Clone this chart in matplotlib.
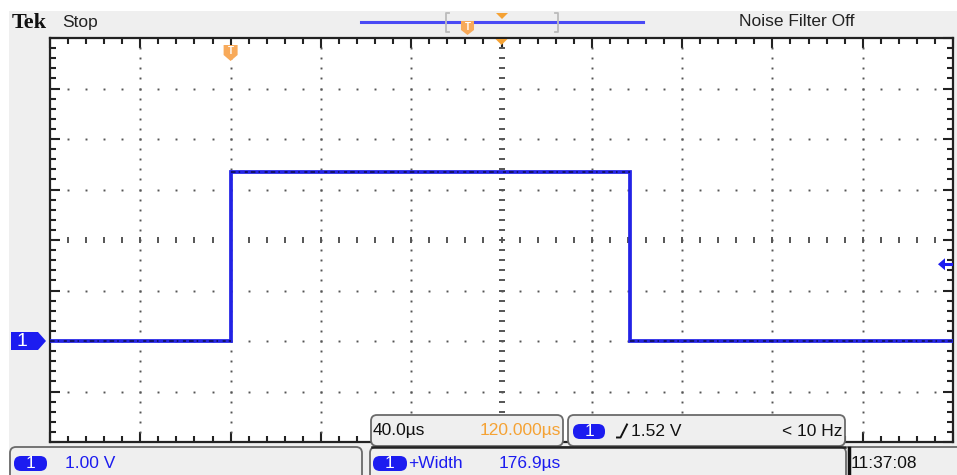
import matplotlib
matplotlib.use('Agg')
import matplotlib.pyplot as plt
import numpy as np
from matplotlib.patches import Rectangle, FancyBboxPatch, Polygon
from matplotlib.ticker import MultipleLocator

# channel 1 trace: single positive pulse
time_us = [-80.0, 0.0, 0.0, 176.9, 176.9, 320.0]
volts = [0.0, 0.0, 3.35, 3.35, 0.0, 0.0]

# scope settings shown on screen
volts_per_div = 1.00
us_per_div = 40.0
h_position_us = 120.0
trigger_level = 1.52
trigger_freq = '< 10 Hz'
pos_width_us = 176.9
clock = '11:37:08'
centre_volts = 2.0          # ground marker is 2 divisions below centre

BLUE = '#1c1cf0'
TRACE = '#2323e6'
ORANGE = '#f5a234'
PANEL = '#efefef'
GRID = '#555555'

plt.rcParams['font.family'] = ['Liberation Sans', 'DejaVu Sans']

W, H = 957, 475
fig = plt.figure(figsize=(W / 100, H / 100), dpi=100)
fig.patch.set_facecolor('white')

# background panel
bg = fig.add_axes([0, 0, 1, 1], zorder=0)
bg.set_xlim(0, W); bg.set_ylim(H, 0); bg.axis('off')
bg.add_patch(Rectangle((9, 11), W - 9, H - 11, fc=PANEL, ec='none'))

# graticule
gl, gr, gt, gb = 50, 953, 38, 442
ax = fig.add_axes([gl / W, (H - gb) / H, (gr - gl) / W, (gb - gt) / H], zorder=1)
ax.set_facecolor('white')
x0 = h_position_us - 5 * us_per_div
x1 = h_position_us + 5 * us_per_div
y0 = centre_volts - 4 * volts_per_div
y1 = centre_volts + 4 * volts_per_div
ax.set_xlim(x0, x1)
ax.set_ylim(y0, y1)
for s in ax.spines.values():
    s.set_linewidth(1.6)
    s.set_color('#222222')
ax.xaxis.set_major_locator(MultipleLocator(us_per_div))
ax.xaxis.set_minor_locator(MultipleLocator(us_per_div / 5))
ax.yaxis.set_major_locator(MultipleLocator(volts_per_div))
ax.yaxis.set_minor_locator(MultipleLocator(volts_per_div / 5))
ax.tick_params(which='both', direction='in', top=True, right=True,
               labelbottom=False, labelleft=False, color='#222222', width=1.5)
ax.tick_params(which='major', length=7)
ax.tick_params(which='minor', length=4)

# dotted division lines
xs_major = x0 + us_per_div * np.arange(1, 10)
ys_major = y0 + volts_per_div * np.arange(1, 8)
xs_fine = x0 + us_per_div / 5 * np.arange(1, 50)
ys_fine = y0 + volts_per_div / 5 * np.arange(1, 40)
for xv in xs_major:
    if np.isclose(xv, h_position_us):
        ax.plot(np.full_like(ys_fine, xv), ys_fine, ls='none', marker='_',
                ms=5, mew=1.4, color=GRID, zorder=2)
    else:
        ax.plot(np.full_like(ys_fine, xv), ys_fine, ls='none', marker='s',
                ms=1.4, mew=0, color=GRID, zorder=2)
for yv in ys_major:
    if np.isclose(yv, centre_volts):
        ax.plot(xs_fine, np.full_like(xs_fine, yv), ls='none', marker='|',
                ms=5, mew=1.4, color=GRID, zorder=2)
    else:
        ax.plot(xs_fine, np.full_like(xs_fine, yv), ls='none', marker='s',
                ms=1.4, mew=0, color=GRID, zorder=2)

# the trace, with the darker sample speckle on the flat parts
ax.plot(time_us, volts, color=TRACE, lw=2.7, zorder=3, solid_joinstyle='miter')
for i in range(0, len(time_us), 2):
    ax.plot(time_us[i:i + 2], volts[i:i + 2], color='#0a0a2a', lw=1.1, zorder=4,
            dashes=(3, 2, 1, 3, 2, 2), alpha=0.85)

# overlay for on-screen readouts
ui = fig.add_axes([0, 0, 1, 1], zorder=2)
ui.set_xlim(0, W); ui.set_ylim(H, 0); ui.axis('off')
ui.patch.set_alpha(0)


def to_px(t, v):
    disp = ax.transData.transform((t, v))
    return ui.transData.inverted().transform(disp)


def pill(x, y, w, h, label='1'):
    ui.add_patch(FancyBboxPatch((x, y), w, h, boxstyle='round,pad=0,rounding_size=7',
                                fc=BLUE, ec='none', zorder=6))
    ui.text(x + w / 2, y + h / 2 + 0.5, label, color='white', fontsize=12.5,
            ha='center', va='center', zorder=7)


# header
ui.text(12, 23, 'Tek', fontsize=16, fontweight='bold', family='Liberation Serif',
        va='center', ha='left', color='#111111')
ui.text(62, 23, 'Stop', fontsize=12.5, va='center', ha='left', color='#222222')
ui.text(797, 22, 'Noise Filter Off', fontsize=12.5, va='center', ha='center', color='#222222')

# record view bar
ui.plot([361, 643], [22, 22], color='#4a4af5', lw=2.2, zorder=5)
for bx, sgn in ((446, 1), (558, -1)):
    ui.plot([bx + 3 * sgn, bx, bx, bx + 3 * sgn], [13, 13, 32, 32],
            color='#bbbbbb', lw=1.3, zorder=5)
ui.add_patch(Polygon([[496, 13], [508, 13], [502, 19]], fc=ORANGE, ec='none', zorder=6))
ui.add_patch(Polygon([[461, 21], [474, 21], [474, 30], [467.5, 35], [461, 30]],
                     fc='#f8aa5a', ec='none', zorder=6))
ui.text(467.5, 26.5, 'T', color='white', fontsize=7, fontweight='bold',
        ha='center', va='center', zorder=7)

# trigger position and horizontal position markers
tx, _ = to_px(0.0, 0.0)
ui.add_patch(Polygon([[tx - 7, 45], [tx + 7, 45], [tx + 7, 55], [tx, 61], [tx - 7, 55]],
                     fc='#f8aa5a', ec='none', zorder=6))
ui.text(tx, 51, 'T', color='white', fontsize=7, fontweight='bold',
        ha='center', va='center', zorder=7)
hx, _ = to_px(h_position_us, 0.0)
ui.add_patch(Polygon([[hx - 6, 39], [hx + 6, 39], [hx, 45]], fc=ORANGE, ec='none', zorder=6))

# channel 1 ground marker
_, gy = to_px(0.0, 0.0)
ui.add_patch(Polygon([[11, gy - 9], [38, gy - 9], [46, gy], [38, gy + 9], [11, gy + 9]],
                     fc=BLUE, ec='none', zorder=6))
ui.text(22, gy + 0.5, '1', color='white', fontsize=14, ha='center', va='center', zorder=7)

# trigger level arrow
_, ty = to_px(0.0, trigger_level)
ui.add_patch(Polygon([[938, ty], [945, ty - 6], [945, ty + 6]], fc=BLUE, ec='none', zorder=6))
ui.plot([944, 951], [ty, ty], color=BLUE, lw=2.2, zorder=6)

# readout boxes
box_kw = dict(fc=PANEL, ec='#6a6a6a', lw=1.3, zorder=4)
ui.add_patch(FancyBboxPatch((10, 447), 352, 40, boxstyle='round,pad=0,rounding_size=6', **box_kw))
ui.add_patch(FancyBboxPatch((370, 447), 476, 40, boxstyle='round,pad=0,rounding_size=6', **box_kw))
ui.add_patch(FancyBboxPatch((371, 415), 192, 31, boxstyle='round,pad=0,rounding_size=6', **box_kw))
ui.add_patch(FancyBboxPatch((568, 415), 277, 31, boxstyle='round,pad=0,rounding_size=6', **box_kw))
ui.plot([372, 845], [446.5, 446.5], color='#222222', lw=1.8, zorder=5)
ui.plot([848, W], [447, 447], color='#6a6a6a', lw=1.3, zorder=5)
ui.plot([848.5, 848.5], [448, H], color='#111111', lw=2.5, zorder=5)

# channel scale
pill(14, 456, 33, 15)
ui.text(65, 463.5, f'{volts_per_div:.2f} V', color=BLUE, fontsize=12.5, va='center', ha='left', zorder=7)

# horizontal scale and position
ui.text(373, 431, f'{us_per_div:.1f}µs', color='#111111', fontsize=12.5, va='center', ha='left', zorder=7)
ui.text(561, 431, f'{h_position_us:.3f}µs', color=ORANGE, fontsize=12.5, va='center', ha='right', zorder=7)

# trigger readout
pill(573, 424, 32, 15)
ui.plot([617, 620.5, 627], [437.5, 437.5, 424.5], color='#111111', lw=1.4, zorder=7)
ui.text(631, 431, f'{trigger_level:.2f} V', color='#111111', fontsize=12.5, va='center', ha='left', zorder=7)
ui.text(843, 431, trigger_freq, color='#111111', fontsize=12.5, va='center', ha='right', zorder=7)

# measurement
pill(373, 456, 34, 15)
ui.text(408, 463.5, '+Width', color=BLUE, fontsize=12.5, va='center', ha='left', zorder=7)
ui.text(499, 463.5, f'{pos_width_us:.1f}µs', color=BLUE, fontsize=12.5, va='center', ha='left', zorder=7)

# clock
ui.text(851, 463.5, clock, color='#111111', fontsize=12.5, va='center', ha='left', zorder=7)

fig.savefig('out.png', dpi=100)
